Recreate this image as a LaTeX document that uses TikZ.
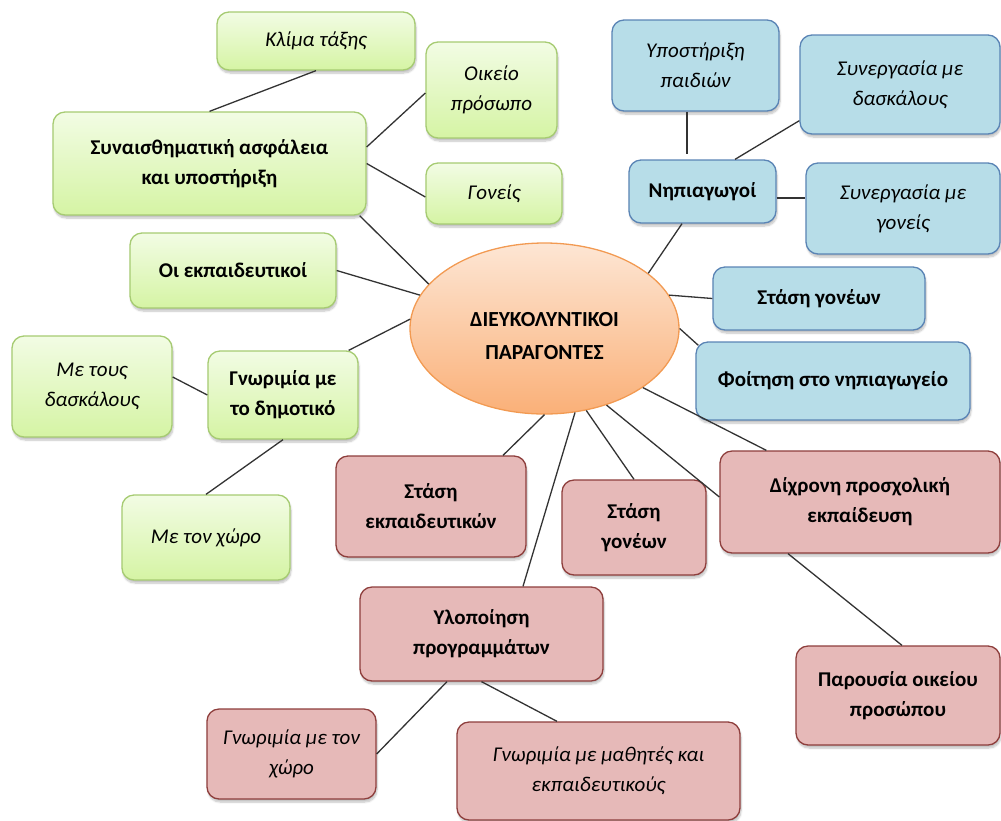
\documentclass[tikz,border=0pt]{standalone}
\usepackage{fontspec}
\setmainfont{Carlito}
\usetikzlibrary{shapes.geometric,shadows.blur}
\definecolor{gtop}{HTML}{F2FCE4}
\definecolor{gbot}{HTML}{D5F4A4}
\definecolor{gline}{HTML}{A6CB72}
\definecolor{bfill}{HTML}{B7DDE8}
\definecolor{bline}{HTML}{5A84B5}
\definecolor{rfill}{HTML}{E6B9B8}
\definecolor{rline}{HTML}{8E3E3C}
\definecolor{otop}{HTML}{FDE6D4}
\definecolor{obot}{HTML}{FAB078}
\definecolor{oline}{HTML}{F29A52}
\definecolor{linkcol}{HTML}{333333}
\newcommand\boxfont{\fontsize{21}{30}\selectfont}
\newcommand\ellfont{\fontsize{21.5}{33}\selectfont}
\tikzset{
  box/.style={rounded corners=12pt, line width=1.3pt, inner sep=2pt, align=center,
    blur shadow={shadow xshift=1pt, shadow yshift=-3pt, shadow opacity=25, shadow blur steps=6}},
  gbox/.style={box, draw=gline, top color=gtop, bottom color=gbot},
  bbox/.style={box, draw=bline, fill=bfill},
  rbox/.style={box, draw=rline, fill=rfill},
  mainfont/.style={font=\bfseries\boxfont},
  subfont/.style={font=\itshape\boxfont},
  dims/.style 2 args={minimum width=#1pt, minimum height=#2pt},
  link/.style={draw=linkcol, line width=1.3pt}
}
\begin{document}
\begin{tikzpicture}[x=1pt,y=-1pt]
\useasboundingbox (0,0) rectangle (1001,820);
% centre
\node[ellipse, draw=oline, line width=1.3pt, top color=otop, bottom color=obot,
  dims={269}{171}, inner sep=0pt,
  label={[yshift=-8pt, font=\bfseries\ellfont, align=center]center:{ΔΙΕΥΚΟΛΥΝΤΙΚΟΙ\\ΠΑΡΑΓΟΝΤΕΣ}}]
  (c) at (544.5,328.5) {};
% green
\node[gbox, subfont, dims={198}{58}] (klima) at (316,41) {Κλίμα τάξης};
\node[gbox, subfont, dims={131}{96}] (oikeio) at (491.5,90) {Οικείο\\πρόσωπο};
\node[gbox, mainfont, dims={313}{103}] (synais) at (209.5,163.5) {Συναισθηματική ασφάλεια\\και υποστήριξη};
\node[gbox, subfont, dims={136}{61}] (goneis) at (494,193.5) {Γονείς};
\node[gbox, mainfont, dims={206}{75}] (ekp) at (233,270.5) {Οι εκπαιδευτικοί};
\node[gbox, subfont, dims={160}{101}] (metous) at (92,386.5) {Με τους\\δασκάλους};
\node[gbox, mainfont, dims={150}{88}] (gnwr) at (283,395) {Γνωριμία με\\το δημοτικό};
\node[gbox, subfont, dims={168}{85}] (metonxwro) at (206,537.5) {Με τον χώρο};
% blue
\node[bbox, subfont, dims={167}{91}] (ypost) at (695.5,65.5) {Υποστήριξη\\παιδιών};
\node[bbox, subfont, dims={200}{99}] (synd) at (900,84.5) {Συνεργασία με\\δασκάλους};
\node[bbox, mainfont, dims={147}{63}] (nip) at (702.5,191.5) {Νηπιαγωγοί};
\node[bbox, subfont, dims={194}{91}] (syng) at (903,208.5) {Συνεργασία με\\γονείς};
\node[bbox, mainfont, dims={212}{63}] (stasgb) at (819,298.5) {Στάση γονέων};
\node[bbox, mainfont, dims={274}{78}] (foit) at (833,381) {Φοίτηση στο νηπιαγωγείο};
% red
\node[rbox, mainfont, dims={190}{101}] (stasekp) at (431,506.5) {Στάση\\εκπαιδευτικών};
\node[rbox, mainfont, dims={144}{95}] (stasgr) at (634,527.5) {Στάση\\γονέων};
\node[rbox, mainfont, dims={280}{102}] (dixr) at (860,502) {Δίχρονη προσχολική\\εκπαίδευση};
\node[rbox, mainfont, dims={243}{94}] (ylop) at (481.5,634) {Υλοποίηση\\προγραμμάτων};
\node[rbox, mainfont, dims={204}{99}] (parous) at (898,695.5) {Παρουσία οικείου\\προσώπου};
\node[rbox, subfont, dims={169}{90}] (gnwrx) at (291.5,754) {Γνωριμία με τον\\χώρο};
\node[rbox, subfont, dims={283}{98}] (gnwrm) at (598.5,771) {Γνωριμία με μαθητές και\\εκπαιδευτικούς};
% connectors
\draw[link] (klima.south) -- (synais.north);
\draw[link] ([yshift=16.5pt]synais.east) -- ([yshift=-3pt]oikeio.west);
\draw[link] (synais.east) -- ([yshift=-3.5pt]goneis.west);
\draw[link] ([xshift=-7pt]synais.south east) -- (c.159.7);
\draw[link] (ekp.east) -- (c.165.5);
\draw[link] ([xshift=-10pt]gnwr.north east) -- (c.176.4);
\draw[link] ([yshift=9.5pt]metous.east) -- (gnwr.west);
\draw[link] (gnwr.south) -- (metonxwro.north);
\draw[link] ([xshift=-8.5pt]ypost.south) -- ([xshift=-15.5pt,yshift=5pt]nip.north);
\draw[link] ([yshift=14pt]synd.south west) -- ([xshift=32.5pt]nip.north);
\draw[link] ([yshift=-6.5pt]nip.east) -- ([yshift=10.5pt]syng.west);
\draw[link] ([xshift=-20.5pt]nip.south) -- (c.28.9);
\draw[link] (c.15.2) -- (stasgb.west);
\draw[link] (c.0) -- ([xshift=3pt,yshift=-4pt]foit.north west);
\draw[link] (c.-31.8) -- ([xshift=47pt]dixr.north west);
\draw[link] (c.-51.1) -- ([yshift=5pt]dixr.west);
\draw[link] (c.-63.6) -- (stasgr.north);
\draw[link] (c.-70.4) -- ([xshift=41.5pt]ylop.north);
\draw[link] (c.-90) -- ([xshift=72pt]stasekp.north);
\draw[link] ([xshift=-72pt]dixr.south) -- ([xshift=4pt]parous.north);
\draw[link] ([xshift=-34.5pt]ylop.south) -- (gnwrx.east);
\draw[link] (ylop.south) -- ([xshift=-41.5pt]gnwrm.north);
\end{tikzpicture}
\end{document}
